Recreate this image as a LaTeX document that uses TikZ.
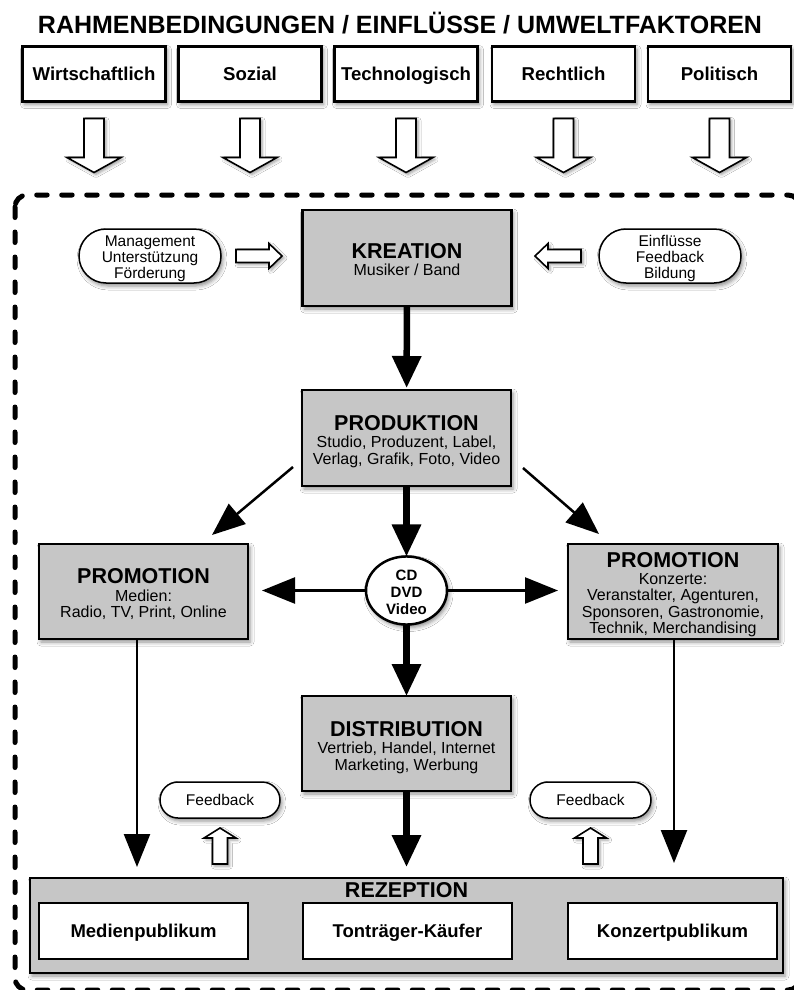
\documentclass[tikz,border=0pt]{standalone}
\usepackage{fontspec}
\setmainfont{Liberation Sans}
\usetikzlibrary{shapes.geometric,shapes.misc,arrows.meta,calc,shadows.blur}
\definecolor{boxgray}{RGB}{198,198,198}
\newcommand\hd[2][22pt]{{\rule{0pt}{#1}\fontsize{21.5}{22}\selectfont\bfseries #2}}
\newcommand\topstrut[1][17pt]{\rule{0pt}{#1}}
\tikzset{
  pics/harrow/.style args={#1/#2/#3/#4}{code={
    \draw[line width=1.6pt, fill=white, line join=miter,
      blur shadow={shadow xshift=2pt,shadow yshift=-2pt,shadow blur radius=3pt,shadow opacity=40}]
      (0,-#2/2) -- (#1-#4,-#2/2) -- (#1-#4,-#3/2) -- (#1,0) -- (#1-#4,#3/2) -- (#1-#4,#2/2) -- (0,#2/2) -- cycle;
  }}
}
\begin{document}
\begin{tikzpicture}[x=1pt,y=-1pt,
  every node/.style={inner sep=0pt, outer sep=0pt},
  shadowed/.style={blur shadow={shadow xshift=2pt,shadow yshift=-3pt,shadow blur radius=4pt,shadow opacity=45}},
  topbox/.style={draw, line width=2.5pt, fill=white, minimum width=143pt, minimum height=55pt,
    text height=13.3pt, text depth=0pt, font=\fontsize{18.6}{18.6}\selectfont\bfseries, shadowed},
  mainbox/.style={draw, line width=2.5pt, fill=boxgray, minimum width=209pt, minimum height=96pt,
    align=center, font=\fontsize{16}{16.5}\selectfont, shadowed},
  innerbox/.style={draw, line width=2.5pt, fill=white, minimum width=209pt, minimum height=56pt,
    text height=13pt, text depth=0pt, font=\fontsize{18.5}{18.5}\selectfont\bfseries},
  pillbox/.style={draw, rounded rectangle, line width=1.5pt, fill=white, align=center,
    font=\fontsize{15.5}{16}\selectfont, shadowed},
  thickarr/.style={line width=6.5pt, -{Triangle[length=32pt,width=28pt]}},
  thinarr/.style={line width=2.5pt, -{Triangle[length=33pt,width=26pt]}},
  border/.style={line width=5pt, dash pattern=on 10.5pt off 14.5pt, line cap=round, rounded corners=12pt}
]
\useasboundingbox (0,0) rectangle (793,990);
\fill[white] (0,0) rectangle (793,990);

% title
\node[font=\fontsize{25}{25}\selectfont\bfseries, anchor=base] (title) at (400,33.5)
  {RAHMENBEDINGUNGEN / EINFLÜSSE / UMWELTFAKTOREN};

% top factors
\node[topbox] (wi) at (94,74) {Wirtschaftlich};
\node[topbox] (so) at (250,74) {Sozial};
\node[topbox] (te) at (406,74) {Technologisch};
\node[topbox] (re) at (563.5,74) {Rechtlich};
\node[topbox] (po) at (719.5,74) {Politisch};

\foreach \n in {wi,so,te,re,po}{
  \pic[rotate=-90] at ($(\n.south)+(0,17)$) {harrow=54/20/54/15};
}

% dashed frame
\draw[border] (15,195) rectangle (800,990);

% kreation row
\node[pillbox, minimum width=142pt, minimum height=54pt] (mgmt) at (150,256)
  {\topstrut Management\\Unterstützung\\Förderung};
\node[mainbox] (krea) at (407,258) {\hd[19pt]{KREATION}\\[0.5pt]Musiker / Band};
\node[pillbox, minimum width=142pt, minimum height=54pt] (einf) at (670,256)
  {\topstrut Einflüsse\\Feedback\\Bildung};
\pic at ($(mgmt.east)+(15,0)$) {harrow=46/13/25/13};
\pic[rotate=180] at ($(einf.west)+(-18,0)$) {harrow=46/13/25/13};

% produktion
\node[mainbox] (prod) at (406.5,438) {\hd{PRODUKTION}\\[0.5pt]Studio, Produzent, Label,\\Verlag, Grafik, Foto, Video};

% promotion
\node[mainbox, minimum height=95pt] (promL) at (143.5,591.5)
  {\hd[21pt]{PROMOTION}\\[1pt]Medien:\\Radio, TV, Print, Online};
\node[mainbox, minimum width=210pt, minimum height=95pt] (promR) at (673,591.5)
  {\hd[21pt]{PROMOTION}\\[0.5pt]Konzerte:\\Veranstalter, Agenturen,\\Sponsoren, Gastronomie,\\Technik, Merchandising};

% medium
\node[draw, ellipse, line width=2.5pt, fill=white, minimum width=81pt, minimum height=67pt,
  align=center, font=\fontsize{15}{17}\selectfont\bfseries, shadowed] (cd) at (406.5,590.5) {\topstrut[14pt]CD\\DVD\\Video};

% distribution
\node[mainbox, minimum height=95pt] (dist) at (406.5,743.5)
  {\hd[23pt]{DISTRIBUTION}\\[0.5pt]Vertrieb, Handel, Internet\\Marketing, Werbung};

% feedback
\node[pillbox, minimum width=120pt, minimum height=36pt] (fbL) at (220,800) {Feedback};
\node[pillbox, minimum width=121pt, minimum height=36pt] (fbR) at (590.5,800) {Feedback};

% rezeption
\node[draw, line width=2.5pt, fill=boxgray, minimum width=753pt, minimum height=95pt, shadowed] (rez) at (406.5,925.5) {};
\node[font=\fontsize{21.5}{22}\selectfont\bfseries, anchor=base] (reztitle) at (406.5,897) {REZEPTION};
\node[innerbox] (medien) at (143.5,931) {Medienpublikum};
\node[innerbox] (tontr) at (407.5,931) {Tonträger-Käufer};
\node[innerbox] (konz) at (672.5,931) {Konzertpublikum};

\pic[rotate=90] at ($(rez.north -| fbL.south)+(0,-14)$) {harrow=36/15/32/10};
\pic[rotate=90] at ($(rez.north -| fbR.south)+(0,-14)$) {harrow=36/15/32/10};

% connectors
\draw[thickarr, shorten >=2pt] (krea) -- (prod);
\draw[thickarr] (prod) -- (cd);
\draw[thickarr] (cd) -- (dist);
\draw[thickarr, shorten >=11pt] (dist) -- (rez);

\draw[thinarr] ($(prod.south west)+(-9,-19)$) -- ($(promL.north)+(68.5,-9)$);
\draw[thinarr] ($(prod.south east)+(12,-18)$) -- ($(promR.north)+(-74,-10)$);
\draw[thinarr, shorten >=14pt] (cd.west) -- (cd.west -| promL.east);
\draw[thinarr, shorten >=10pt] (cd.east) -- (cd.east -| promR.west);
\draw[thinarr] ($(promL.south)+(-6.5,0)$) -- ($(medien.north)+(-6.5,-36)$);
\draw[thinarr] ($(promR.south)+(1,0)$) -- ($(konz.north)+(1.5,-40)$);
\end{tikzpicture}
\end{document}
